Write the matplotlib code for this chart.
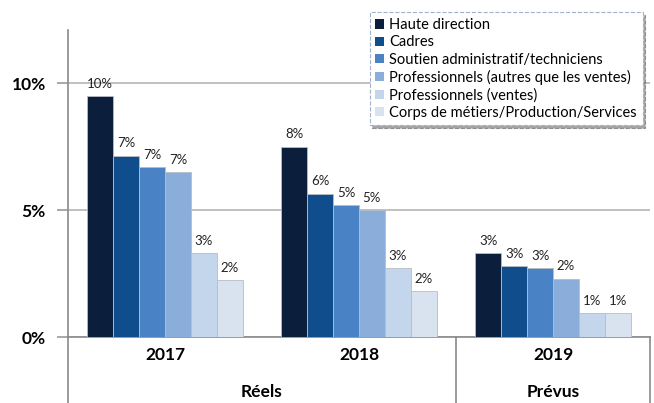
import numpy as np
import matplotlib
matplotlib.use("Agg")
import matplotlib.pyplot as plt

plt.rcParams['font.family'] = ['Lato', 'DejaVu Sans']

years = ['2017', '2018', '2019']
groups = ['Réels', 'Prévus']
series = ['Haute direction', 'Cadres', 'Soutien administratif/techniciens',
          'Professionnels (autres que les ventes)', 'Professionnels (ventes)',
          'Corps de métiers/Production/Services']
values = [
    [9.5, 7.5, 3.3],
    [7.15, 5.65, 2.8],
    [6.7, 5.2, 2.7],
    [6.5, 5.0, 2.3],
    [3.3, 2.7, 0.95],
    [2.25, 1.8, 0.95],
]
labels = [
    ['10%', '8%', '3%'],
    ['7%', '6%', '3%'],
    ['7%', '5%', '3%'],
    ['7%', '5%', '2%'],
    ['3%', '3%', '1%'],
    ['2%', '2%', '1%'],
]
colors = ['#0b1e3c', '#0f4d8c', '#4a82c6', '#8aaed9', '#c3d6ec', '#d9e3ef']

fig = plt.figure(figsize=(6.54, 4.03), dpi=100)
ax = fig.add_axes([68/654, 66/403, 582/654, 307/403])

x = np.arange(len(years))
w = 0.8 / len(series)
for i, (s, v) in enumerate(zip(series, values)):
    pos = x - 0.4 + w * (i + 0.5)
    ax.bar(pos, v, w, color=colors[i], edgecolor='#b8bcc4', linewidth=0.6,
           label=s, zorder=3)
    for xi, yi, t in zip(pos, v, labels[i]):
        ax.text(xi, yi + 0.25, t, ha='center', va='bottom', fontsize=9.5,
                color='#222222', zorder=4)

ax.set_xlim(-0.5, 2.5)
ax.set_ylim(0, 12.1)
ax.set_yticks([0, 5, 10])
ax.set_yticklabels(['0%', '5%', '10%'], fontsize=12.5, fontweight='bold')
ax.yaxis.grid(True, color='#b5b5b5', linewidth=1.2, zorder=0)
ax.tick_params(axis='y', length=8, color='#9a9a9a', width=1.2, pad=8)
ax.set_xticks([])
for sp in ['top', 'right']:
    ax.spines[sp].set_visible(False)
ax.spines['left'].set_color('#8a8a8a')
ax.spines['bottom'].set_color('#8a8a8a')
ax.spines['left'].set_linewidth(1.2)
ax.spines['bottom'].set_linewidth(1.2)

# category area below the axis
tr = ax.get_xaxis_transform()
for xv in [-0.5, 1.5, 2.5]:
    ax.plot([xv, xv], [0, -0.22], transform=tr, color='#8a8a8a', lw=1.2, clip_on=False)
for xi, yr in zip(x, years):
    ax.text(xi, -0.06, yr, transform=tr, ha='center', va='center',
            fontsize=12.5, fontweight='bold')
ax.text(0.5, -0.18, groups[0], transform=tr, ha='center', va='center',
        fontsize=12.5, fontweight='bold')
ax.text(2.0, -0.18, groups[1], transform=tr, ha='center', va='center',
        fontsize=12.5, fontweight='bold')

leg = fig.legend(loc='upper right', bbox_to_anchor=(650/654, 1 - 5/403),
                 fontsize=10.5, handlelength=0.6, handleheight=0.6,
                 handletextpad=0.35, labelspacing=0.22, borderpad=0.4,
                 frameon=True, fancybox=False, shadow=True)
frame = leg.get_frame()
frame.set_linestyle('--')
frame.set_edgecolor('#9fb4cc')
frame.set_linewidth(0.8)
for h in leg.legend_handles:
    h.set_edgecolor('none')

fig.savefig('out.png', dpi=100)
